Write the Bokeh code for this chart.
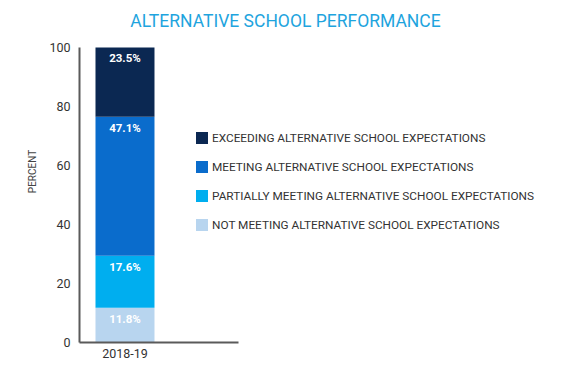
from bokeh.plotting import figure
from bokeh.models import (ColumnDataSource, Range1d, FixedTicker, Legend, LegendItem, Label)
from bokeh.core.properties import value
from bokeh.embed import file_html
from bokeh.resources import INLINE

years = ["2018-19"]
categories = [
    "NOT MEETING ALTERNATIVE SCHOOL EXPECTATIONS",
    "PARTIALLY MEETING ALTERNATIVE SCHOOL EXPECTATIONS",
    "MEETING ALTERNATIVE SCHOOL EXPECTATIONS",
    "EXCEEDING ALTERNATIVE SCHOOL EXPECTATIONS",
]
values = [11.8, 17.6, 47.1, 23.5]
colors = ["#b8d5ef", "#00aeef", "#0a6ccc", "#0b2852"]
y_ticks = [0, 20, 40, 60, 80, 100]
title_text = "ALTERNATIVE SCHOOL PERFORMANCE"
y_label = "PERCENT"

FONT = "Roboto"
x_pos = list(range(len(years)))

X0, X1 = -0.771, 7.551      # full frame (includes legend area)
AX_END = 1.924              # visible x axis extent
Y_TOP = 115.93              # frame extends above 100 to hold the title

p = figure(width=570, height=373, output_backend="svg", toolbar_location=None,
           x_range=Range1d(X0, X1), y_range=Range1d(0, Y_TOP),
           min_border_left=79, min_border_right=0, min_border_top=0,
           min_border_bottom=31)
p.outline_line_color = None
p.xgrid.visible = False
p.ygrid.visible = False

data = {"x": x_pos}
keys = []
for i, (c, v) in enumerate(zip(categories, values)):
    k = f"s{i}"
    keys.append(k)
    data[k] = [v]
src = ColumnDataSource(data)
renderers = p.vbar_stack(keys, x="x", width=1.0, color=colors, source=src, line_color=None)

# value labels
tops = []
acc = 0
for v in values:
    acc += v
    tops.append(acc)
lab_src = ColumnDataSource(dict(x=[x_pos[0]] * len(values), y=tops,
                                t=[f"{v:.1f}%" for v in values]))
p.text(x="x", y="y", text="t", source=lab_src, text_align="center",
       text_baseline="middle", y_offset=11, text_color="white",
       text_font=value(FONT), text_font_style="bold", text_font_size="11.5px")

# axes
for ax in (p.xaxis[0], p.yaxis[0]):
    ax.axis_line_color = "#5a5a5a"
    ax.axis_line_width = 2
    ax.major_tick_in = 0
    ax.major_tick_out = 0
    ax.minor_tick_line_color = None
    ax.major_label_text_font = FONT
    ax.major_label_text_font_size = "12.5px"
    ax.major_label_text_color = "#333333"

p.yaxis.ticker = FixedTicker(ticks=y_ticks)
p.yaxis.bounds = (0, 100)
p.yaxis.major_label_standoff = 9
p.yaxis.axis_label = y_label
p.yaxis.axis_label_text_font = FONT
p.yaxis.axis_label_text_font_size = "10px"
p.yaxis.axis_label_text_font_style = "normal"
p.yaxis.axis_label_text_color = "#444444"
p.yaxis.axis_label_standoff = 8

p.xaxis.ticker = FixedTicker(ticks=x_pos)
p.xaxis.bounds = (X0, AX_END)
p.xaxis.major_label_overrides = {x: y for x, y in zip(x_pos, years)}
p.xaxis.major_label_standoff = 6

# legend
items = [LegendItem(label=categories[i], renderers=[renderers[i]]) for i in reversed(range(len(categories)))]
legend = Legend(items=items, location=(115, 110), glyph_width=15, glyph_height=15,
                label_height=15, label_standoff=3, spacing=14, padding=0, margin=0,
                border_line_color=None, background_fill_alpha=0,
                label_text_font=FONT, label_text_font_size="11.8px",
                label_text_color="#333333")
p.add_layout(legend, "center")

# title
t = Label(x=206, y=322, x_units="screen", y_units="screen", text=title_text,
          text_align="center", text_baseline="middle", text_font=FONT,
          text_font_size="17.5px", text_color="#1ea4de")
p.add_layout(t)

open("out.html", "w").write(file_html(p, INLINE))
